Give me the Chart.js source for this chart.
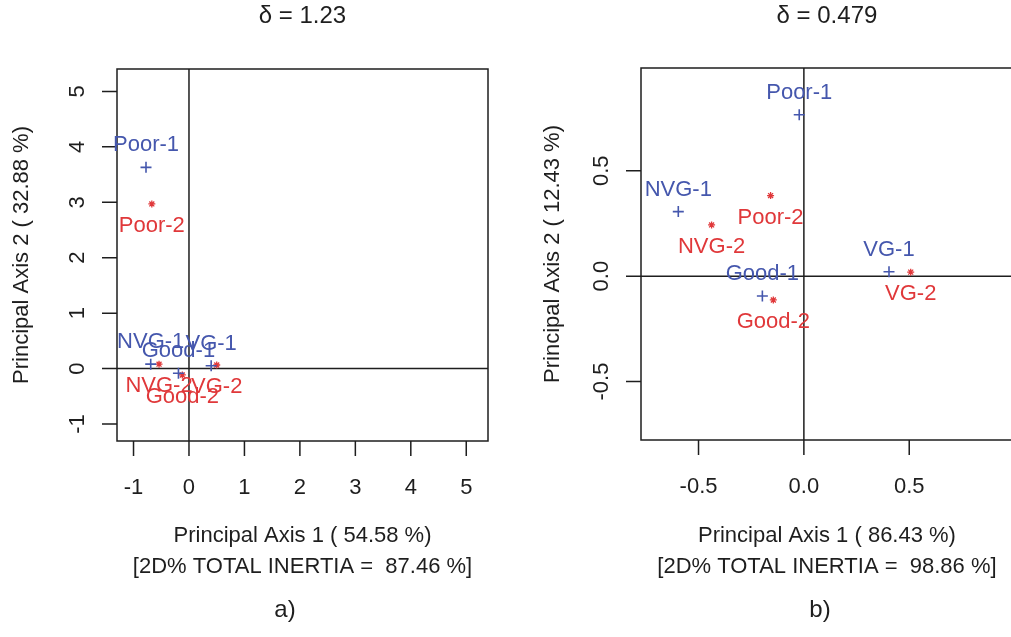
<!DOCTYPE html>
<html>
<head>
<meta charset="utf-8">
<script src="https://cdn.jsdelivr.net/npm/chart.js@4.4.1/dist/chart.umd.min.js"></script>
<style>
  html, body { margin: 0; padding: 0; background: #fff; overflow: hidden; }
  body { width: 1011px; height: 637px; position: relative; }
  canvas { position: absolute; top: 0; }
  #left { left: 0; }
  #right { left: 520px; }
</style>
</head>
<body>
<canvas id="left" width="530" height="637"></canvas>
<canvas id="right" width="500" height="637"></canvas>
<script>
// categories shared by both panels, suffix -1 / -2 marks the two series
const categories = ['Poor', 'NVG', 'Good', 'VG']

// panel a)
const aX1 = [-0.775, -0.69, -0.19, 0.40]
const aY1 = [3.63, 0.08, -0.085, 0.05]
const aX2 = [-0.67, -0.54, -0.12, 0.50]
const aY2 = [2.97, 0.08, -0.115, 0.065]
const aTicks = [-1, 0, 1, 2, 3, 4, 5]
const aTickLabels = ['-1', '0', '1', '2', '3', '4', '5']

// panel b)
const bX1 = [-0.022, -0.596, -0.197, 0.404]
const bY1 = [0.765, 0.306, -0.094, 0.021]
const bX2 = [-0.158, -0.438, -0.145, 0.507]
const bY2 = [0.382, 0.243, -0.113, 0.019]
const bTicks = [-0.5, 0, 0.5]
const bTickLabels = ['-0.5', '0.0', '0.5']

const INK = '#1e1e1e'
const BLUE = '#4557ad'
const RED = '#e0383a'
const FONT = '"Liberation Sans", Arial, sans-serif'

function points(xs, ys) {
  return xs.map((x, i) => ({ x, y: ys[i] }))
}

function framePlugin(p) {
  return {
    id: 'caFrame',
    beforeDatasetsDraw(chart) {
      const { ctx, chartArea: a, scales: { x, y } } = chart
      ctx.save()
      ctx.strokeStyle = INK
      ctx.lineWidth = 1.5

      // axes through the origin
      const x0 = x.getPixelForValue(0)
      const y0 = y.getPixelForValue(0)
      ctx.beginPath()
      ctx.moveTo(x0, a.top)
      ctx.lineTo(x0, a.bottom)
      ctx.moveTo(a.left, y0)
      ctx.lineTo(a.right, y0)
      ctx.stroke()

      ctx.strokeRect(a.left, a.top, a.right - a.left, a.bottom - a.top)

      // tick marks
      ctx.beginPath()
      p.ticks.forEach((t) => {
        const px = x.getPixelForValue(t)
        ctx.moveTo(px, a.bottom)
        ctx.lineTo(px, a.bottom + 15)
        const py = y.getPixelForValue(t)
        ctx.moveTo(a.left - 15, py)
        ctx.lineTo(a.left, py)
      })
      ctx.stroke()

      ctx.fillStyle = INK
      ctx.font = '22px ' + FONT
      ctx.textAlign = 'center'
      ctx.textBaseline = 'middle'
      p.ticks.forEach((t, i) => {
        ctx.fillText(p.tickLabels[i], x.getPixelForValue(t), a.bottom + 47)
        ctx.save()
        ctx.translate(a.left - p.yLabelGap, y.getPixelForValue(t))
        ctx.rotate(-Math.PI / 2)
        ctx.fillText(p.tickLabels[i], 0, 0)
        ctx.restore()
      })

      const cx = (a.left + a.right) / 2
      const cy = (a.top + a.bottom) / 2
      ctx.fillText(p.xTitle, cx, 536)
      ctx.fillText(p.xTitle2, cx, 567)
      ctx.save()
      ctx.translate(a.left - p.yTitleGap, cy)
      ctx.rotate(-Math.PI / 2)
      ctx.fillText(p.yTitle, 0, 0)
      ctx.restore()

      ctx.font = '24px ' + FONT
      ctx.fillText(p.main, cx, 16)
      ctx.fillText(p.caption, p.captionX, 610)
      ctx.restore()
    },
    afterDatasetsDraw(chart) {
      const { ctx } = chart
      ctx.save()
      ctx.font = '22px ' + FONT
      ctx.textAlign = 'center'
      ctx.textBaseline = 'middle'
      chart.data.datasets.forEach((ds, di) => {
        const meta = chart.getDatasetMeta(di)
        ctx.fillStyle = ds.borderColor
        meta.data.forEach((el, i) => {
          const dy = di === 0 ? -22 : 22
          ctx.fillText(categories[i] + '-' + (di + 1), el.x, el.y + dy)
        })
      })
      ctx.restore()
    },
  }
}

function makePanel(id, p) {
  new Chart(document.getElementById(id), {
    type: 'scatter',
    data: {
      datasets: [
        {
          data: points(p.x1, p.y1),
          pointStyle: 'cross',
          pointRadius: 5.5,
          borderColor: BLUE,
          borderWidth: 1.6,
        },
        {
          data: points(p.x2, p.y2),
          pointStyle: 'star',
          pointRadius: 3.5,
          borderColor: RED,
          borderWidth: 1.3,
        },
      ],
    },
    options: {
      responsive: false,
      animation: false,
      events: [],
      layout: { padding: p.padding },
      plugins: { legend: { display: false }, tooltip: { enabled: false } },
      scales: {
        x: { type: 'linear', display: false, min: p.xRange[0], max: p.xRange[1] },
        y: { type: 'linear', display: false, min: p.yRange[0], max: p.yRange[1] },
      },
    },
    plugins: [framePlugin(p)],
  })
}

makePanel('left', {
  x1: aX1, y1: aY1, x2: aX2, y2: aY2,
  ticks: aTicks, tickLabels: aTickLabels,
  xRange: [-1.298, 5.392], yRange: [-1.306, 5.404],
  padding: { left: 117, top: 69, right: 42, bottom: 196 },
  yLabelGap: 39, yTitleGap: 95,
  main: 'δ = 1.23',
  xTitle: 'Principal Axis 1 ( 54.58 %)',
  xTitle2: '[2D% TOTAL INERTIA =  87.46 %]',
  yTitle: 'Principal Axis 2 ( 32.88 %)',
  caption: 'a)', captionX: 285,
})

makePanel('right', {
  x1: bX1, y1: bY1, x2: bX2, y2: bY2,
  ticks: bTicks, tickLabels: bTickLabels,
  xRange: [-0.773, 0.992], yRange: [-0.777, 0.987],
  padding: { left: 121, top: 68, right: 7, bottom: 197 },
  yLabelGap: 39, yTitleGap: 88,
  main: 'δ = 0.479',
  xTitle: 'Principal Axis 1 ( 86.43 %)',
  xTitle2: '[2D% TOTAL INERTIA =  98.86 %]',
  yTitle: 'Principal Axis 2 ( 12.43 %)',
  caption: 'b)', captionX: 300,
})
</script>
</body>
</html>
